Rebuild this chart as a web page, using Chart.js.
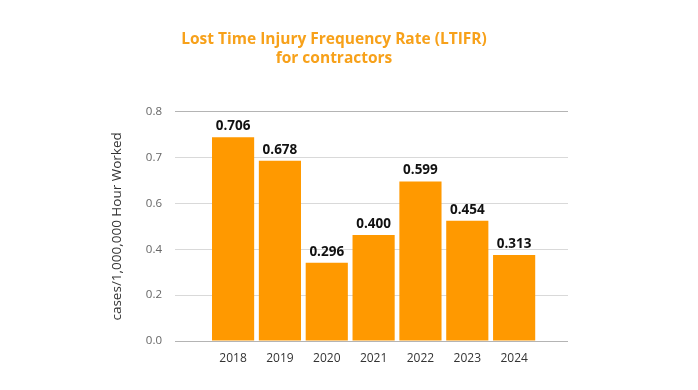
<!DOCTYPE html>
<html>
<head>
<meta charset="utf-8">
<script src="https://cdn.jsdelivr.net/npm/chart.js@4.4.1/dist/chart.umd.min.js"></script>
<style>
  html, body { margin: 0; padding: 0; background: #fff; }
  #wrap { width: 698px; height: 390px; }
</style>
</head>
<body>
<div id="wrap"><canvas id="chart_ltifr" width="698" height="390"></canvas></div>
<script>
const years = ['2018', '2019', '2020', '2021', '2022', '2023', '2024'];
// bar heights as they sit on the axis in the source picture
const ltifrBars = [0.711, 0.629, 0.273, 0.370, 0.557, 0.420, 0.300];
// values printed above the bars
const ltifrLabels = ['0.706', '0.678', '0.296', '0.400', '0.599', '0.454', '0.313'];
// the source chart labels its evenly spaced gridlines like this
const yTickValues = [0, 0.16, 0.32, 0.48, 0.64, 0.8];
const yTickLabels = ['0.0', '0.2', '0.4', '0.6', '0.7', '0.8'];

const BAR_COLOR = '#ff9900';
const TITLE_COLOR = '#f7a11a';
const FONT = '"Open Sans", sans-serif';

// draws the printed value above each bar
const valueLabels = {
    id: 'valueLabels',
    afterDatasetsDraw(chart) {
        const ctx = chart.ctx;
        const meta = chart.getDatasetMeta(0);
        ctx.save();
        ctx.font = 'bold 13.5px ' + FONT;
        ctx.fillStyle = '#111';
        ctx.textAlign = 'center';
        ctx.textBaseline = 'bottom';
        meta.data.forEach((bar, i) => {
            ctx.fillText(ltifrLabels[i], bar.x, bar.y - 4);
        });
        ctx.restore();
    }
};

const ctx = document.getElementById('chart_ltifr');
new Chart(ctx, {
    type: 'bar',
    data: {
        datasets: [{
            data: ltifrBars.map((v, i) => ({ x: i, y: v })),
            backgroundColor: BAR_COLOR,
            borderWidth: 0,
            barPercentage: 0.9,
            categoryPercentage: 1
        }]
    },
    options: {
        responsive: false,
        animation: false,
        layout: {
            padding: { left: 100, right: 130, top: 0, bottom: 0 }
        },
        plugins: {
            legend: { display: false },
            tooltip: { enabled: false },
            title: {
                display: true,
                text: ['Lost Time Injury Frequency Rate (LTIFR)', 'for contractors'],
                color: TITLE_COLOR,
                font: { family: FONT, size: 15.5, weight: 'bold', lineHeight: 1.25 },
                padding: { top: 30, bottom: 43 }
            }
        },
        scales: {
            x: {
                type: 'linear',
                offset: false,
                min: -1.24,
                max: 7.15,
                grid: { display: false },
                border: { display: false },
                afterBuildTicks: scale => {
                    scale.ticks = years.map((y, i) => ({ value: i }));
                },
                afterFit: scale => { scale.height = 49; },
                ticks: {
                    padding: 2,
                    color: '#333',
                    font: { family: FONT, size: 12 },
                    maxRotation: 0,
                    callback: v => years[v]
                }
            },
            y: {
                min: 0,
                max: 0.8,
                afterBuildTicks: scale => {
                    scale.ticks = yTickValues.map(v => ({ value: v }));
                },
                afterFit: scale => { scale.width = 75; },
                border: { display: false },
                grid: {
                    drawTicks: false,
                    lineWidth: 1,
                    color: c => (c.tick.value === 0 || c.tick.value === 0.8) ? '#b4b4b4' : '#d9d9d9'
                },
                ticks: {
                    padding: 13,
                    color: '#666',
                    font: { family: FONT, size: 11.5 },
                    callback: (v, i) => yTickLabels[i]
                },
                title: {
                    display: true,
                    text: 'cases/1,000,000 Hour Worked',
                    color: '#333',
                    font: { family: FONT, size: 13.5 },
                    padding: { top: 9, bottom: 0 }
                }
            }
        }
    },
    plugins: [valueLabels]
});
</script>
</body>
</html>
